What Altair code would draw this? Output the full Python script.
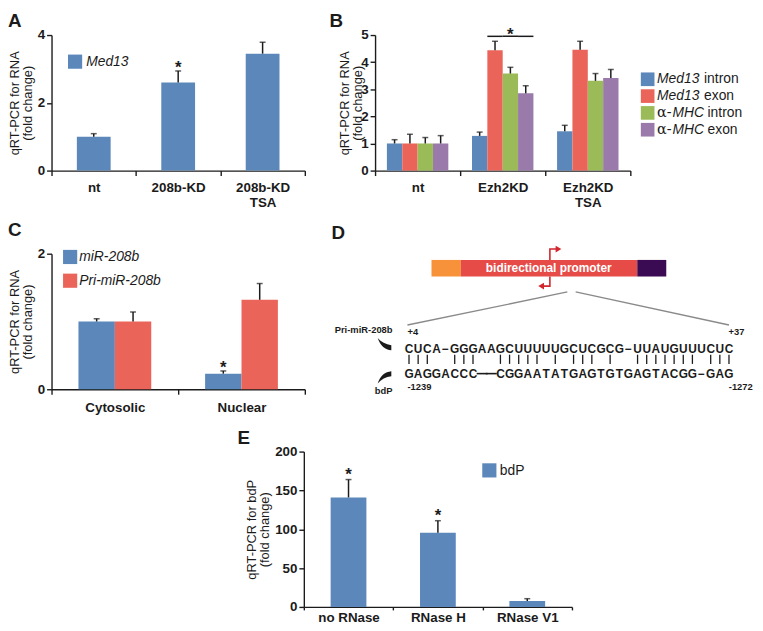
import altair as alt
import pandas as pd

W, H = 755, 623
FONT = "Liberation Sans"
INK = "#1b1b1b"
BLUE, RED, GREEN, PURPLE = "#5b87ba", "#eb6459", "#9bbb59", "#9a7aaa"

# ---------------- Panel A ----------------
a_groups = ["nt", "208b-KD", "208b-KD TSA"]
a_values = [1.00, 2.60, 3.45]
a_errors = [0.09, 0.34, 0.34]
a_stars = ["", "*", ""]

# ---------------- Panel B ----------------
b_groups = ["nt", "Ezh2KD", "Ezh2KD TSA"]
b_series = ["Med13 intron", "Med13 exon", "α-MHC intron", "α-MHC exon"]
b_med13_intron = [1.00, 1.28, 1.45]
b_med13_exon = [1.00, 4.44, 4.46]
b_mhc_intron = [1.00, 3.58, 3.31]
b_mhc_exon = [1.00, 2.85, 3.42]
b_med13_intron_err = [0.14, 0.14, 0.22]
b_med13_exon_err = [0.34, 0.33, 0.31]
b_mhc_intron_err = [0.22, 0.23, 0.27]
b_mhc_exon_err = [0.29, 0.28, 0.31]
b_sig_group = "Ezh2KD"
b_sig_series = ["Med13 exon", "α-MHC intron", "α-MHC exon"]
b_sig_level = 4.95

# ---------------- Panel C ----------------
c_groups = ["Cytosolic", "Nuclear"]
c_series = ["miR-208b", "Pri-miR-208b"]
c_mir = [1.00, 0.23]
c_pri = [1.00, 1.32]
c_mir_err = [0.04, 0.04]
c_pri_err = [0.14, 0.24]
c_mir_stars = ["", "*"]
c_pri_stars = ["", ""]

# ---------------- Panel D ----------------
seq_top = list("CUCA−GGGAAGCUUUUUGCUCGCG−UUAUGUUUCUC")
seq_bottom = list("GAGGACCC——CGGAATATGAGTGTGAGTACGG−GAG")
pair_positions = [0, 1, 2, 5, 6, 7, 10, 11, 12, 13, 14, 16, 18, 19, 20, 22,
                  25, 26, 27, 28, 29, 30, 31, 33, 34, 35]
promoter_parts = ["upstream", "bidirectional promoter", "downstream"]
promoter_colors = ["#f7923a", "#e64b47", "#3a0b52"]

# ---------------- Panel E ----------------
e_groups = ["no RNase", "RNase H", "RNase V1"]
e_values = [141.0, 95.5, 7.6]
e_errors = [23.0, 15.5, 3.0]
e_stars = ["*", "*", ""]

TITLE_RNA = ["qRT-PCR for RNA", "(fold change)"]
TITLE_BDP = ["qRT-PCR for bdP", "(fold change)"]


def y_axis(x0, values, title, title_pad):
    return alt.Axis(orient="left", offset=-x0, values=values, title=title, grid=False,
                    format="d",
                    domainColor=INK, domainWidth=1.4, tickColor=INK, tickWidth=1.4, tickSize=5,
                    labelFont=FONT, labelFontSize=13.5, labelFontWeight="bold", labelColor=INK,
                    labelPadding=2, titleFont=FONT, titleFontSize=13, titleFontWeight="normal",
                    titleColor=INK, titlePadding=title_pad, titleLineHeight=13)


def x_axis(y0, label_pad, tick=5, split=True):
    kw = dict(orient="bottom", offset=y0 - H, title=None, labelAngle=0, tickBand="extent",
              grid=False, domainColor=INK, domainWidth=1.4, tickColor=INK, tickWidth=1.4,
              tickSize=tick, labelFont=FONT, labelFontSize=13.5, labelFontWeight="bold",
              labelColor=INK, labelPadding=label_pad, labelLineHeight=15)
    if split:
        kw["labelExpr"] = "split(datum.label, ' ')"
    return alt.Axis(**kw)


def simple_panel(groups, values, errors, stars, xr, yd, yr, yvals, title, tpad,
                 lpad, tick, split, star_dy):
    df = pd.DataFrame({"grp": groups, "val": values,
                       "top": [v + e for v, e in zip(values, errors)], "star": stars})
    xs = alt.X("grp:N", sort=groups,
               scale=alt.Scale(domain=groups, range=xr, paddingInner=0, paddingOuter=0),
               axis=x_axis(yr[0], lpad, tick, split))
    ysc = alt.Scale(domain=yd, range=yr, nice=False, zero=True)
    yax = y_axis(xr[0], yvals, title, tpad)
    base = alt.Chart(df).encode(x=xs)
    bars = base.mark_bar(width=alt.RelativeBandSize(0.4), color=BLUE).encode(
        y=alt.Y("val:Q", scale=ysc, axis=yax))
    rule = base.mark_rule(color=INK, strokeWidth=1.5).encode(
        y=alt.Y("val:Q", scale=ysc, axis=yax), y2="top:Q")
    cap = base.mark_tick(color=INK, thickness=1.5, size=6).encode(
        y=alt.Y("top:Q", scale=ysc, axis=yax))
    star = base.mark_text(font=FONT, fontSize=17, fontWeight="bold", color=INK,
                          baseline="alphabetic", dy=star_dy).encode(
        y=alt.Y("top:Q", scale=ysc, axis=yax), text="star:N")
    return alt.layer(bars, rule, cap, star)


def grouped_panel(df, groups, series, colors, xr, off_pad, yd, yr, yvals, title, tpad,
                  lpad, split, star_dy, extra=None):
    xs = alt.X("grp:N", sort=groups,
               scale=alt.Scale(domain=groups, range=xr, paddingInner=0, paddingOuter=0),
               axis=x_axis(yr[0], lpad, 5, split))
    xo = alt.XOffset("series:N", sort=series,
                     scale=alt.Scale(domain=series, paddingInner=0, paddingOuter=off_pad))
    ysc = alt.Scale(domain=yd, range=yr, nice=False, zero=True)
    yax = y_axis(xr[0], yvals, title, tpad)
    col = alt.Color("series:N", scale=alt.Scale(domain=series, range=colors), legend=None)
    base = alt.Chart(df).encode(x=xs, xOffset=xo)
    bars = base.mark_bar().encode(y=alt.Y("val:Q", scale=ysc, axis=yax), color=col)
    rule = base.mark_rule(color=INK, strokeWidth=1.5).encode(
        y=alt.Y("val:Q", scale=ysc, axis=yax), y2="top:Q")
    cap = base.mark_tick(color=INK, thickness=1.5, size=6).encode(
        y=alt.Y("top:Q", scale=ysc, axis=yax))
    star = base.mark_text(font=FONT, fontSize=17, fontWeight="bold", color=INK,
                          baseline="alphabetic", dy=star_dy).encode(
        y=alt.Y("top:Q", scale=ysc, axis=yax), text="star:N")
    layers = [bars, rule, cap, star]
    if extra is not None:
        sbase = alt.Chart(extra).encode(x=xs, xOffset=xo)
        layers.append(sbase.mark_bar(color=INK).encode(
            y=alt.Y("lo:Q", scale=ysc, axis=yax), y2="hi:Q"))
        layers.append(sbase.mark_text(font=FONT, fontSize=17, fontWeight="bold", color=INK,
                                      baseline="alphabetic", dy=star_dy).encode(
            y=alt.Y("lo:Q", scale=ysc, axis=yax), text="star:N"))
    return alt.layer(*layers)


# ---------------- build panels ----------------
panel_a = simple_panel(a_groups, a_values, a_errors, a_stars, [44, 300], [0, 4], [161, 24],
                       [0, 2, 4], TITLE_RNA, 3, 5, 5, True, 2)

b_vals = [b_med13_intron, b_med13_exon, b_mhc_intron, b_mhc_exon]
b_errs = [b_med13_intron_err, b_med13_exon_err, b_mhc_intron_err, b_mhc_exon_err]
rows = []
for gi, g in enumerate(b_groups):
    for si, s in enumerate(b_series):
        rows.append({"grp": g, "series": s, "val": b_vals[si][gi],
                     "top": b_vals[si][gi] + b_errs[si][gi], "star": ""})
df_b = pd.DataFrame(rows)
sig_b = pd.DataFrame({"grp": [b_sig_group] * 3, "series": b_sig_series,
                      "lo": [b_sig_level - 0.025] * 3, "hi": [b_sig_level + 0.03] * 3,
                      "star": ["", "*", ""]})
panel_b = grouped_panel(df_b, b_groups, b_series, [BLUE, RED, GREEN, PURPLE], [371, 629], 0.77,
                        [0, 5], [161, 24], [0, 1, 2, 3, 4, 5], TITLE_RNA, -4, 5, True, 2.5,
                        extra=sig_b)

rows = []
for gi, g in enumerate(c_groups):
    rows.append({"grp": g, "series": c_series[0], "val": c_mir[gi],
                 "top": c_mir[gi] + c_mir_err[gi], "star": c_mir_stars[gi]})
    rows.append({"grp": g, "series": c_series[1], "val": c_pri[gi],
                 "top": c_pri[gi] + c_pri_err[gi], "star": c_pri_stars[gi]})
df_c = pd.DataFrame(rows)
panel_c = grouped_panel(df_c, c_groups, c_series, [BLUE, RED], [44, 300], 0.74,
                        [0, 2], [382, 245], [0, 1, 2], TITLE_RNA, 3, 6.5, False, 2)

panel_e = simple_panel(e_groups, e_values, e_errors, e_stars, [299, 570], [0, 200], [602, 445],
                       [0, 50, 100, 150, 200], TITLE_BDP, 3, 1, 3, False, 0)

# ---------------- legends ----------------
one = pd.DataFrame({"k": [0]})


def sq(x, y, color, size=205):
    return alt.Chart(one).mark_point(shape="square", filled=True, opacity=1, size=size,
                                     color=color).encode(x=alt.value(x), y=alt.value(y))


def label(x, y, text, size=14, style="normal", weight="normal", align="left", color=INK):
    return alt.Chart(one).mark_text(text=text, font=FONT, fontSize=size, fontStyle=style,
                                    fontWeight=weight, align=align, baseline="middle",
                                    color=color).encode(x=alt.value(x), y=alt.value(y))


leg_a = alt.layer(sq(67.8, 50.9, BLUE), label(79, 51, "Med13", style="italic"))
leg_e = alt.layer(sq(486.5, 464, BLUE), label(497, 464.5, "bdP"))

lyc = alt.Scale(domain=[0, 1], range=[248.3, 272.3], nice=False, zero=False)
leg_c_df = pd.DataFrame({"i": [0, 1], "series": c_series})
leg_c = alt.layer(
    alt.Chart(leg_c_df).mark_point(shape="square", filled=True, opacity=1, size=205).encode(
        x=alt.value(62.8), y=alt.Y("i:Q", scale=lyc, axis=None),
        color=alt.Color("series:N", scale=alt.Scale(domain=c_series, range=[BLUE, RED]),
                        legend=None)),
    alt.Chart(leg_c_df).mark_text(font=FONT, fontSize=14, fontStyle="italic", align="left",
                                  baseline="middle", color=INK).encode(
        x=alt.value(72), y=alt.Y("i:Q", scale=lyc, axis=None), text="series:N"),
)

lyb = alt.Scale(domain=[0, 3], range=[68.7, 119.7], nice=False, zero=False)
leg_b_df = pd.DataFrame({"i": list(range(4)), "series": b_series,
                         "gene": [s.split(" ")[0] for s in b_series],
                         "kind": [s.split(" ")[1] for s in b_series]})
med_df = leg_b_df[leg_b_df.gene == "Med13"]
mhc_df = leg_b_df[leg_b_df.gene != "Med13"].assign(
    pre=lambda d: d.gene.str.split("-").str[0] + "-",
    name=lambda d: d.gene.str.split("-").str[1])


def ltext(df, field, x, style, font=FONT, size=14):
    return alt.Chart(df).mark_text(font=font, fontSize=size, fontStyle=style, align="left",
                                   baseline="middle", color=INK).encode(
        x=alt.value(x), y=alt.Y("i:Q", scale=lyb, axis=None), text=f"{field}:N")


leg_b = alt.layer(
    alt.Chart(leg_b_df).mark_point(shape="square", filled=True, opacity=1, size=190).encode(
        x=alt.value(646.5), y=alt.Y("i:Q", scale=lyb, axis=None),
        color=alt.Color("series:N", scale=alt.Scale(domain=b_series,
                                                    range=[BLUE, RED, GREEN, PURPLE]),
                        legend=None)),
    ltext(med_df, "gene", 656, "italic"),
    ltext(med_df, "kind", 703.5, "normal"),
    ltext(mhc_df, "pre", 656, "normal", font="DejaVu Serif", size=14.5),
    ltext(mhc_df, "name", 671.5, "italic"),
    ltext(mhc_df, "kind", 707, "normal"),
)

# ---------------- panel D diagram ----------------
dxs = alt.Scale(domain=[0, 35], range=[405.3, 728.7], nice=False, zero=False)
dys = alt.Scale(domain=[0, 2], range=[341, 366.2], nice=False, zero=False)


def DX(f):
    return alt.X(f, scale=dxs, axis=None)


def DY(f):
    return alt.Y(f, scale=dys, axis=None)


prom_df = pd.DataFrame({"part": promoter_parts, "x0": [2.46, 5.67, 24.97],
                        "x1": [5.67, 24.97, 28.14], "y0": [-7.12] * 3, "y1": [-5.79] * 3})
prom = alt.Chart(prom_df).mark_rect().encode(
    x=DX("x0:Q"), x2="x1:Q", y=DY("y0:Q"), y2="y1:Q",
    color=alt.Color("part:N", scale=alt.Scale(domain=promoter_parts, range=promoter_colors),
                    legend=None))
prom_text = alt.Chart(pd.DataFrame({"x": [15.29], "y": [-6.47], "t": [promoter_parts[1]]})
                      ).mark_text(font=FONT, fontSize=12, fontWeight="bold", color="white",
                                  baseline="middle").encode(x=DX("x:Q"), y=DY("y:Q"), text="t:N")
arrow_df = pd.DataFrame({"arrow": ["up"] * 3 + ["down"] * 3, "k": [0, 1, 2] * 2,
                         "x": [15.41, 15.41, 16.3, 15.41, 15.41, 14.5],
                         "y": [-7.12, -7.99, -7.99, -5.79, -5.02, -5.02]})
arrow_lines = alt.Chart(arrow_df).mark_line(color="#d2262c", strokeWidth=1.6).encode(
    x=DX("x:Q"), y=DY("y:Q"), detail="arrow:N", order="k:Q")
head_r = alt.Chart(pd.DataFrame({"x": [16.35], "y": [-7.99]})).mark_point(
    shape="triangle-right", filled=True, opacity=1, size=45, color="#d2262c").encode(
    x=DX("x:Q"), y=DY("y:Q"))
head_l = alt.Chart(pd.DataFrame({"x": [14.45], "y": [-5.02]})).mark_point(
    shape="triangle-left", filled=True, opacity=1, size=45, color="#d2262c").encode(
    x=DX("x:Q"), y=DY("y:Q"))
zoom_df = pd.DataFrame({"x0": [17.32, 18.23], "y0": [-4.55, -4.55],
                        "x1": [-0.17, 35.0], "y1": [-1.9, -1.9]})
zoom_lines = alt.Chart(zoom_df).mark_rule(color="#8a8a8a", strokeWidth=1.3).encode(
    x=DX("x0:Q"), y=DY("y0:Q"), x2="x1:Q", y2="y1:Q")

assert len(seq_top) == len(seq_bottom) == 36
seq_df = pd.DataFrame({"pos": list(range(36)) * 2, "row": [0] * 36 + [2] * 36,
                       "ch": seq_top + seq_bottom})
gap_df = seq_df[seq_df.ch == "—"].assign(x0=lambda d: d.pos - 0.6, x1=lambda d: d.pos + 0.6)
seq_text = alt.Chart(seq_df[seq_df.ch != "—"]).mark_text(
    font=FONT, fontSize=12, fontWeight="bold", color=INK, baseline="middle").encode(
    x=DX("pos:Q"), y=DY("row:Q"), text="ch:N")
gap_rules = alt.Chart(gap_df).mark_rule(color=INK, strokeWidth=1.6).encode(
    x=DX("x0:Q"), x2="x1:Q", y=DY("row:Q"))
pair_df = pd.DataFrame({"pos": pair_positions, "y0": [0.48] * len(pair_positions),
                        "y1": [1.22] * len(pair_positions)})
pair_rules = alt.Chart(pair_df).mark_rule(color=INK, strokeWidth=1.3).encode(
    x=DX("pos:Q"), y=DY("y0:Q"), y2="y1:Q")

right_lbl = pd.DataFrame({"x": [-1.8, -1.8, 36.7, 37.6], "y": [-1.51, 3.39, -1.35, 3.04],
                          "t": ["Pri-miR-208b", "bdP", "+37", "-1272"]})
left_lbl = pd.DataFrame({"x": [-0.17, -0.17], "y": [-1.35, 3.04], "t": ["+4", "-1239"]})
lbl_r = alt.Chart(right_lbl).mark_text(font=FONT, fontSize=9.5, fontWeight="bold", color=INK,
                                       align="right", baseline="middle").encode(
    x=DX("x:Q"), y=DY("y:Q"), text="t:N")
lbl_l = alt.Chart(left_lbl).mark_text(font=FONT, fontSize=9.5, fontWeight="bold", color=INK,
                                      align="left", baseline="middle").encode(
    x=DX("x:Q"), y=DY("y:Q"), text="t:N")
CRES_TOP = "M -1 -0.9 C -0.6 0.3 0.1 0.8 1 0.9 L 1 0.15 C 0.2 0.05 -0.5 -0.3 -1 -0.9 Z"
CRES_BOT = "M -1 0.9 C -0.6 -0.3 0.1 -0.8 1 -0.9 L 1 -0.15 C 0.2 -0.05 -0.5 0.3 -1 0.9 Z"
cres_t = alt.Chart(pd.DataFrame({"x": [-2.68], "y": [-0.36]})).mark_point(
    shape=CRES_TOP, filled=True, opacity=1, size=190, color=INK).encode(
    x=DX("x:Q"), y=DY("y:Q"))
cres_b = alt.Chart(pd.DataFrame({"x": [-2.68], "y": [2.3]})).mark_point(
    shape=CRES_BOT, filled=True, opacity=1, size=190, color=INK).encode(
    x=DX("x:Q"), y=DY("y:Q"))

panel_d = alt.layer(zoom_lines, prom, prom_text, arrow_lines, head_r, head_l, seq_text,
                    gap_rules, pair_rules, lbl_r, lbl_l, cres_t, cres_b)

# ---------------- panel letters ----------------
letters = [("A", 0, 9.5), ("B", 325, 9.5), ("C", 0, 221.5), ("D", 327, 224), ("E", 232, 431)]
letter_layers = [label(x, y, t, size=19, weight="bold") for t, x, y in letters]

chart = alt.layer(
    panel_a, panel_b, panel_c, panel_d, panel_e, leg_a, leg_b, leg_c, leg_e, *letter_layers
).resolve_scale(
    x="independent", y="independent", color="independent", xOffset="independent"
).properties(
    width=W, height=H, autosize=alt.AutoSizeParams(type="none"), padding=0
).configure(font=FONT, view=alt.ViewConfig(stroke=None))

chart.save("out.html", embed_options={"renderer": "svg", "actions": False})
